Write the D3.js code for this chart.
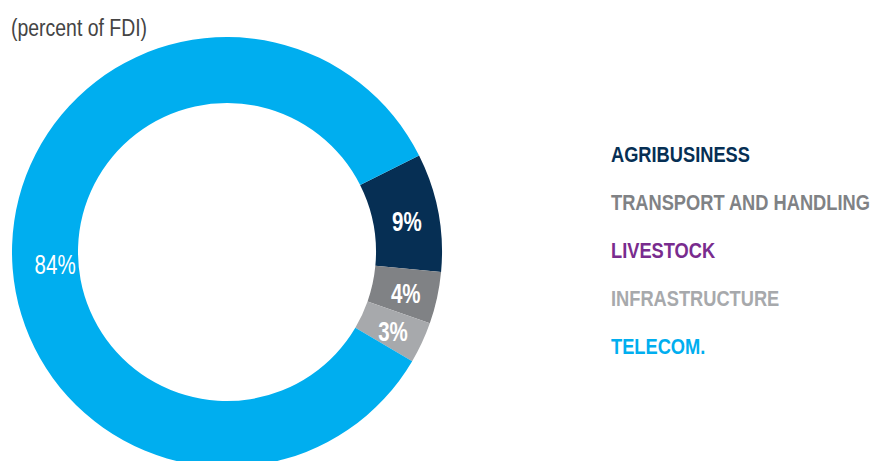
<!DOCTYPE html>
<html>
<head>
<meta charset="utf-8">
<script src="https://cdn.jsdelivr.net/npm/d3@7"></script>
<style>
  body { margin: 0; background: #fff; }
  svg { display: block; }
  text { font-family: "Liberation Sans", "Open Sans", sans-serif; }
</style>
</head>
<body>
<div id="chart"></div>
<script>
// data
const sectors = ["AGRIBUSINESS", "TRANSPORT AND HANDLING", "LIVESTOCK", "INFRASTRUCTURE", "TELECOM."];
const shares = [8.9, 3.9, 0, 3.1, 84.1];
const labels = ["9%", "4%", "", "3%", "84%"];
const colors = ["#062f54", "#808285", "#792c8e", "#a7a9ac", "#00aeef"];

const width = 873, height = 461;
const cx = 227, cy = 252, outerR = 215, innerR = 149;
const narrow = 0.83; // no condensed font installed, squeeze text instead

const svg = d3.select("#chart")
    .append("svg")
    .attr("width", width)
    .attr("height", height);

svg.append("text")
    .attr("transform", `translate(11,36) scale(0.81,1)`)
    .attr("fill", "#444")
    .style("font-size", "24px")
    .text("(percent of FDI)");

const rows = sectors.map((s, i) => ({ name: s, value: shares[i], label: labels[i], color: colors[i] }));

// first slice starts ~63 deg clockwise from the top
const start = 63.3 * Math.PI / 180;
const pie = d3.pie()
    .value(d => d.value)
    .sort(null)
    .startAngle(start)
    .endAngle(start + 2 * Math.PI);

const arc = d3.arc()
    .innerRadius(innerR)
    .outerRadius(outerR);

const g = svg.append("g")
    .attr("transform", `translate(${cx},${cy})`);

const arcs = pie(rows);

g.selectAll("path")
    .data(arcs)
    .join("path")
    .attr("d", arc)
    .attr("fill", d => d.data.color);

g.selectAll("text.lbl")
    .data(arcs.filter(d => d.data.label))
    .join("text")
    .attr("class", "lbl")
    .attr("transform", d => {
        const [x, y] = arc.centroid(d);
        // the big label sits a little lower and further in
        const big = d.data.value > 50;
        return `translate(${x + (big ? 10 : 1)},${y + (big ? 19 : 3)}) scale(0.76,1)`;
    })
    .attr("text-anchor", "middle")
    .attr("dy", "0.35em")
    .attr("fill", "#fff")
    .style("font-size", "27px")
    .style("font-weight", d => d.data.value > 50 ? "normal" : "bold")
    .text(d => d.data.label);

// legend
const legendY = d3.scaleBand()
    .domain(sectors)
    .range([130, 370]);

svg.append("g")
    .selectAll("text")
    .data(rows)
    .join("text")
    .attr("transform", d => `translate(611,${legendY(d.name) + legendY.bandwidth() / 2}) scale(${narrow},1)`)
    .attr("dy", "0.35em")
    .attr("fill", d => d.color)
    .style("font-size", "22px")
    .style("font-weight", "bold")
    .text(d => d.name);
</script>
</body>
</html>
